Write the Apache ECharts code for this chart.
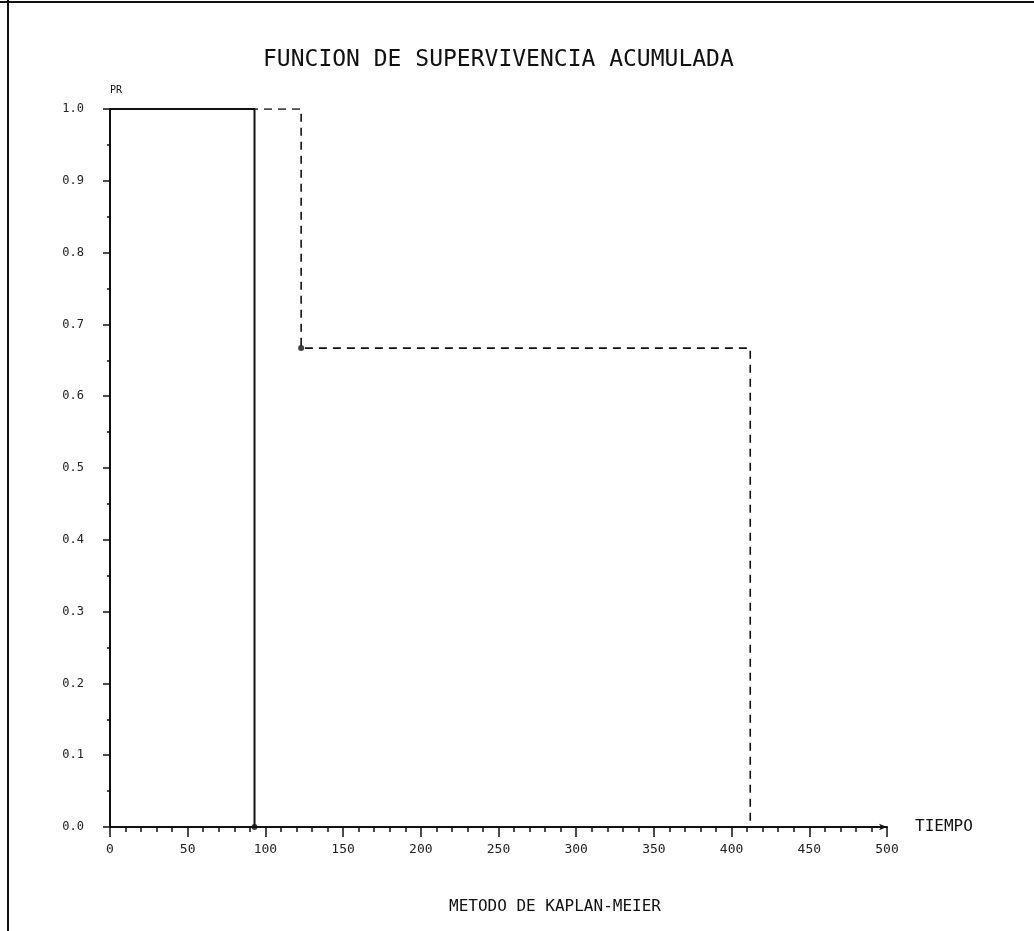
<!DOCTYPE html>
<html>
<head>
<meta charset="utf-8">
<title>Funcion de supervivencia acumulada</title>
<script src="https://cdn.jsdelivr.net/npm/echarts@6/dist/echarts.min.js"></script>
<style>
  html, body { margin: 0; padding: 0; background: #fff; }
  #chart { width: 1034px; height: 931px; }
</style>
</head>
<body>
<div id="chart"></div>
<script>
// Kaplan-Meier estimates
const solidTimes = [0, 93];
const solidSurv = [1.0, 0.0];
const dashedTimes = [0, 123, 412];
const dashedSurv = [1.0, 0.667, 0.0];
// points marked with a dot
const markTimes = [93, 123];
const markSurv = [0.0, 0.667];

const xTicks = [0, 50, 100, 150, 200, 250, 300, 350, 400, 450, 500];
const yTicks = [0.0, 0.1, 0.2, 0.3, 0.4, 0.5, 0.6, 0.7, 0.8, 0.9, 1.0];

const ink = '#111';
const font = 'DejaVu Sans Mono';

const toPairs = (xs, ys) => xs.map((x, i) => [x, ys[i]]);

const chart = echarts.init(document.getElementById('chart'), null, { renderer: 'canvas' });

chart.setOption({
  backgroundColor: '#fff',
  animation: false,
  title: [
    {
      text: 'FUNCION DE SUPERVIVENCIA ACUMULADA',
      left: 258,
      top: 44,
      textStyle: { fontFamily: font, fontSize: 23, fontWeight: 'normal', color: ink }
    },
    {
      text: 'METODO DE KAPLAN-MEIER',
      left: 444,
      top: 894,
      textStyle: { fontFamily: font, fontSize: 16, fontWeight: 'normal', color: ink }
    }
  ],
  grid: { left: 110, right: 147, top: 109, bottom: 104 },
  xAxis: {
    type: 'value',
    min: xTicks[0],
    max: xTicks[xTicks.length - 1],
    interval: 50,
    name: 'TIEMPO',
    nameLocation: 'end',
    nameGap: 28,
    nameTextStyle: { fontFamily: font, fontSize: 16, color: ink, padding: [0, 0, 10, 0] },
    axisLine: { lineStyle: { color: ink, width: 2 }, symbol: ['none', 'arrow'], symbolSize: [5, 8] },
    axisTick: { length: 10, lineStyle: { color: ink, width: 1.5 } },
    minorTick: { show: true, splitNumber: 5, length: 5, lineStyle: { color: ink, width: 1.5 } },
    axisLabel: { margin: 16, fontFamily: font, fontSize: 13, color: '#222' },
    splitLine: { show: false }
  },
  yAxis: {
    type: 'value',
    min: yTicks[0],
    max: yTicks[yTicks.length - 1],
    interval: 0.1,
    name: 'PR',
    nameLocation: 'end',
    nameGap: 14,
    nameTextStyle: { fontFamily: font, fontSize: 10, color: ink, align: 'left' },
    axisLine: { show: true, lineStyle: { color: ink, width: 2 } },
    axisTick: { show: true, length: 7, lineStyle: { color: ink, width: 1.5 } },
    minorTick: { show: true, splitNumber: 2, length: 3, lineStyle: { color: ink, width: 1.5 } },
    axisLabel: {
      margin: 26,
      fontFamily: font,
      fontSize: 12,
      color: '#222',
      formatter: (v) => v.toFixed(1)
    },
    splitLine: { show: false }
  },
  series: [
    {
      name: 'dashed',
      type: 'line',
      step: 'end',
      data: toPairs(dashedTimes, dashedSurv),
      showSymbol: false,
      lineStyle: { color: ink, width: 1.6, type: [8, 6] },
      z: 2
    },
    {
      name: 'solid',
      type: 'line',
      step: 'end',
      data: toPairs(solidTimes, solidSurv),
      showSymbol: false,
      lineStyle: { color: ink, width: 2 },
      z: 3
    },
    {
      name: 'marks',
      type: 'scatter',
      data: toPairs(markTimes, markSurv),
      symbol: 'circle',
      symbolSize: 6,
      itemStyle: { color: ink },
      z: 4
    }
  ],
  graphic: [
    { type: 'line', shape: { x1: 0, y1: 2, x2: 1034, y2: 2 }, style: { stroke: ink, lineWidth: 2 } },
    { type: 'line', shape: { x1: 8, y1: 0, x2: 8, y2: 931 }, style: { stroke: ink, lineWidth: 2 } }
  ]
});
</script>
</body>
</html>
